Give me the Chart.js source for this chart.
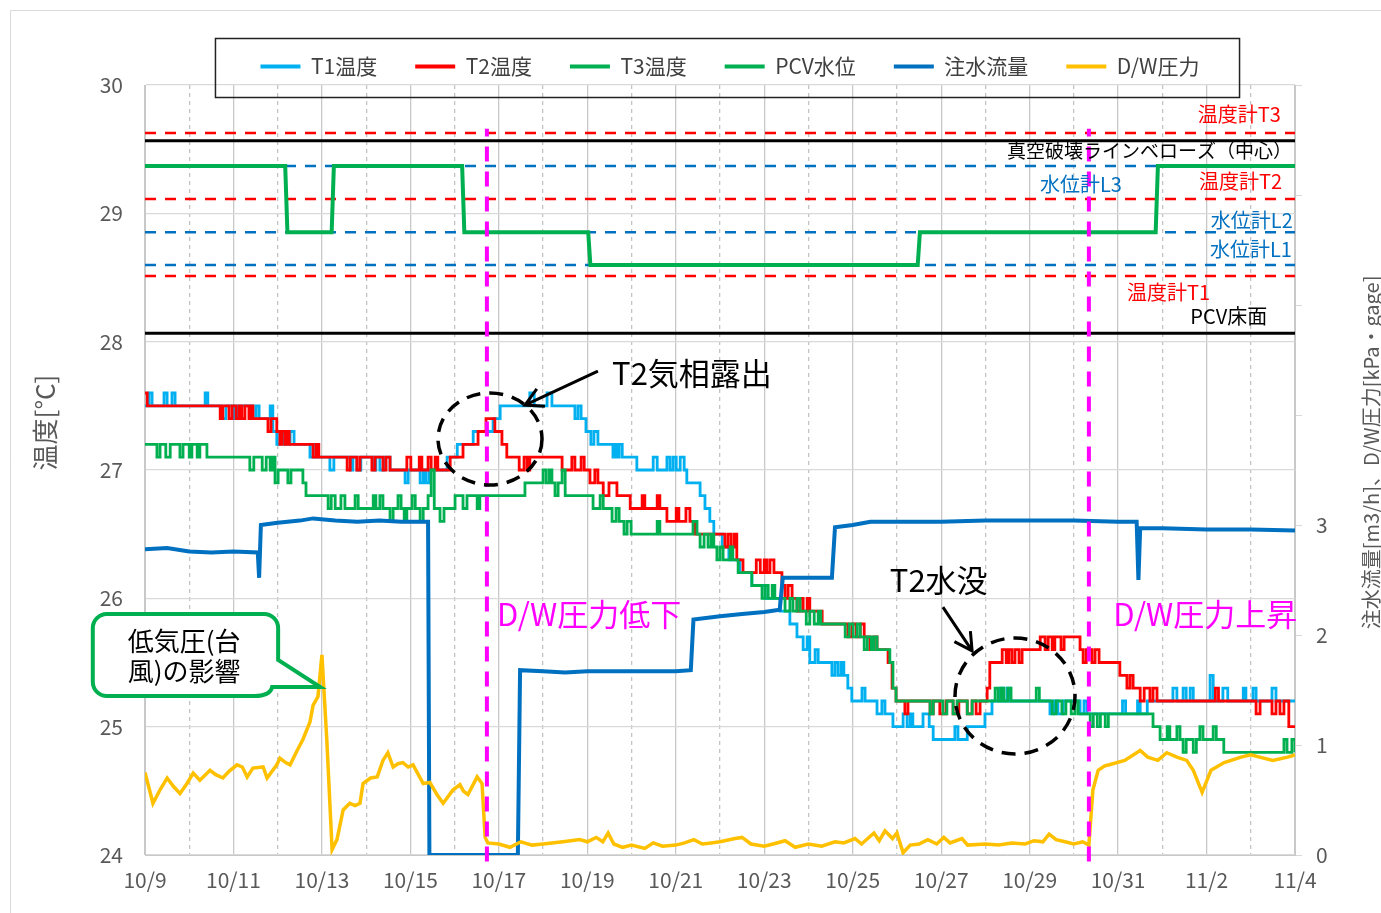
<!DOCTYPE html>
<html>
<head>
<meta charset="utf-8">
<script src="https://cdn.jsdelivr.net/npm/chart.js@4.4.1/dist/chart.umd.min.js"></script>
<style>
html, body { margin: 0; padding: 0; background: #fff; overflow: hidden; }
canvas { display: block; }
</style>
</head>
<body>
<canvas id="myChart" width="1381" height="913"></canvas>
<script>
// days counted from 10/9, temperatures in degC, flow in m3/h, pressure in kPa gage
const dateTicks = ['10/9', '10/11', '10/13', '10/15', '10/17', '10/19', '10/21', '10/23', '10/25', '10/27', '10/29', '10/31', '11/2', '11/4']

const seriesNames = ['T1温度', 'T2温度', 'T3温度', 'PCV水位', '注水流量', 'D/W圧力']

// temperature change points [day, value] (the value holds until the next point)
const t1Steps = [[0,27.5],[0.09,27.6],[0.16,27.5],[0.43,27.6],[0.50,27.5],[0.61,27.6],[0.68,27.5],[1.36,27.6],[1.42,27.5],[1.74,27.4],
  [1.83,27.5],[2.01,27.4],[2.08,27.5],[2.44,27.4],[2.51,27.5],[2.58,27.4],[2.83,27.5],[2.89,27.3],[2.98,27.2],[3.05,27.3],
  [3.14,27.2],[3.28,27.3],[3.37,27.2],[3.73,27.1],[3.80,27.2],[3.87,27.1],[4.18,27.0],[4.27,27.1],[4.64,27.0],[4.70,27.1],
  [4.79,27.0],[4.88,27.1],[5.16,27.0],[5.22,27.1],[5.31,27.0],[5.40,27.1],[5.54,27.0],[5.88,26.9],[5.95,27.0],[6.22,26.9],
  [6.29,27.0],[6.35,26.9],[6.42,27.0],[6.83,27.1],[7.06,27.2],[7.42,27.3],[7.87,27.4],[8.03,27.5],[8.70,27.6],[8.80,27.5],
  [9.09,27.6],[9.20,27.5],[9.72,27.4],[9.79,27.5],[9.86,27.4],[9.97,27.3],[10.08,27.2],[10.15,27.3],[10.24,27.2],[10.58,27.1],
  [10.63,27.2],[10.67,27.1],[10.72,27.2],[10.79,27.1],[11.12,27.0],[11.49,27.1],[11.58,27.0],[11.80,27.1],[11.87,27.0],[11.94,27.1],
  [12.01,27.0],[12.10,27.1],[12.19,27.0],[12.25,26.9],[12.55,26.8],[12.66,26.7],[12.77,26.6],[12.86,26.5],[13.05,26.4],[13.20,26.3],
  [13.45,26.2],[13.72,26.1],[14.02,26.0],[14.36,25.9],[14.58,25.8],[14.74,25.7],[14.88,25.6],[14.97,25.7],[15.03,25.5],[15.15,25.6],
  [15.22,25.5],[15.53,25.4],[15.60,25.5],[15.67,25.4],[15.74,25.5],[15.80,25.4],[15.89,25.3],[15.98,25.2],[16.21,25.3],[16.28,25.2],
  [16.55,25.1],[16.66,25.2],[16.73,25.1],[16.91,25.0],[17.14,25.1],[17.23,25.0],[17.30,25.1],[17.36,25.0],[17.59,25.1],[17.73,25.0],
  [17.82,24.9],[18.31,25.0],[18.38,24.9],[18.59,25.0],[18.99,25.1],[19.15,25.2],[19.33,25.3],[19.40,25.2],[19.49,25.3],[19.56,25.2],
  [20.46,25.1],[20.55,25.2],[20.64,25.1],[20.76,25.2],[21.14,25.1],[21.23,25.2],[21.30,25.1],[22.10,25.2],[22.17,25.1],[22.44,25.2],
  [22.50,25.1],[22.66,25.2],[23.24,25.3],[23.33,25.2],[23.47,25.3],[23.54,25.2],[23.63,25.3],[23.70,25.2],[24.08,25.4],[24.15,25.2],
  [24.37,25.3],[24.48,25.2],[24.83,25.3],[24.89,25.2],[25.05,25.3],[25.12,25.2],[25.48,25.3],[25.57,25.2],[26,25.2]]

const t2Steps = [[0,27.6],[0.05,27.5],[1.70,27.4],[1.76,27.5],[1.90,27.4],[1.97,27.5],[2.06,27.4],[2.13,27.5],[2.19,27.4],[2.26,27.5],
  [2.35,27.4],[2.40,27.5],[2.44,27.4],[2.78,27.3],[2.85,27.4],[2.98,27.3],[3.05,27.2],[3.10,27.3],[3.17,27.2],[3.21,27.3],
  [3.26,27.2],[3.80,27.1],[3.87,27.2],[3.93,27.1],[4.57,27.0],[4.64,27.1],[4.79,27.0],[4.86,27.1],[5.13,27.0],[5.20,27.1],
  [5.38,27.0],[5.45,27.1],[5.54,27.0],[5.92,27.1],[6.01,27.0],[6.20,27.1],[6.26,27.0],[6.40,27.1],[6.47,27.0],[6.56,27.1],
  [6.62,27.0],[6.90,27.1],[7.19,27.2],[7.53,27.3],[7.71,27.4],[7.91,27.3],[8.07,27.2],[8.18,27.1],[8.46,27.0],[8.57,27.1],
  [8.64,27.0],[8.70,27.1],[9.43,27.0],[9.65,27.1],[9.72,27.0],[9.86,27.1],[9.93,27.0],[10.06,26.9],[10.17,27.0],[10.24,26.9],
  [10.36,26.8],[10.49,26.9],[10.67,26.8],[10.97,26.7],[11.24,26.8],[11.30,26.7],[11.58,26.8],[11.64,26.7],[11.80,26.6],[12.01,26.7],
  [12.07,26.6],[12.23,26.7],[12.32,26.6],[12.44,26.5],[13.11,26.4],[13.18,26.5],[13.25,26.4],[13.32,26.5],[13.38,26.3],[13.52,26.2],
  [13.82,26.3],[13.91,26.2],[14.00,26.3],[14.06,26.2],[14.13,26.3],[14.22,26.2],[14.40,26.1],[14.47,26.0],[14.54,26.1],[14.63,26.0],
  [14.74,25.9],[14.81,26.0],[14.88,25.9],[14.97,26.0],[15.03,25.9],[15.31,25.8],[15.89,25.7],[15.98,25.8],[16.08,25.7],[16.17,25.8],
  [16.26,25.7],[16.39,25.6],[16.48,25.7],[16.55,25.6],[16.80,25.5],[16.89,25.3],[16.98,25.2],[17.18,25.1],[17.25,25.2],[17.75,25.1],
  [17.82,25.2],[17.97,25.1],[18.11,25.2],[18.27,25.1],[18.40,25.2],[18.59,25.1],[18.70,25.2],[18.79,25.1],[18.88,25.2],[19.04,25.3],
  [19.10,25.5],[19.38,25.6],[19.47,25.5],[19.53,25.6],[19.60,25.5],[19.67,25.6],[19.76,25.5],[19.83,25.6],[20.24,25.7],[20.35,25.6],
  [20.42,25.7],[20.51,25.6],[20.57,25.7],[20.71,25.6],[20.78,25.7],[21.14,25.6],[21.21,25.5],[21.28,25.6],[21.41,25.5],[21.48,25.6],
  [21.57,25.5],[22.04,25.4],[22.20,25.3],[22.27,25.4],[22.34,25.3],[22.50,25.2],[22.59,25.3],[22.72,25.2],[22.79,25.3],[22.88,25.2],
  [24.20,25.3],[24.27,25.2],[25.12,25.1],[25.21,25.2],[25.48,25.1],[25.57,25.2],[25.66,25.1],[25.75,25.2],[25.86,25.0],[26,25.0]]

const t3Steps = [[0,27.2],[0.27,27.1],[0.34,27.2],[0.47,27.1],[0.57,27.2],[0.79,27.1],[0.86,27.2],[1.00,27.1],[1.06,27.2],[1.18,27.1],
  [1.24,27.2],[1.40,27.1],[2.37,27.0],[2.46,27.1],[2.65,27.0],[2.74,27.1],[2.83,27.0],[2.89,27.1],[2.94,26.9],[3.01,27.0],
  [3.23,26.9],[3.30,27.0],[3.57,26.9],[3.64,26.8],[4.14,26.7],[4.21,26.8],[4.30,26.7],[4.43,26.8],[4.52,26.7],[4.75,26.8],
  [4.82,26.7],[5.16,26.8],[5.22,26.7],[5.31,26.8],[5.38,26.7],[5.54,26.6],[5.61,26.7],[5.72,26.8],[5.79,26.7],[5.86,26.6],
  [5.92,26.7],[6.04,26.8],[6.11,26.7],[6.22,26.6],[6.29,26.7],[6.40,26.8],[6.47,27.0],[6.54,26.7],[6.67,26.6],[6.76,26.7],
  [7.01,26.8],[7.19,26.7],[7.28,26.8],[7.51,26.7],[7.57,26.8],[8.59,26.9],[9.00,27.0],[9.07,26.9],[9.14,27.0],[9.20,26.9],
  [9.27,26.8],[9.34,26.9],[9.43,27.0],[9.50,26.8],[10.13,26.7],[10.29,26.8],[10.36,26.7],[10.56,26.6],[10.65,26.7],[10.72,26.6],
  [10.83,26.5],[10.90,26.6],[10.99,26.5],[11.58,26.6],[11.64,26.5],[12.39,26.6],[12.48,26.5],[12.55,26.4],[12.64,26.5],[12.73,26.4],
  [12.80,26.5],[12.86,26.4],[12.93,26.3],[13.00,26.4],[13.07,26.3],[13.23,26.4],[13.29,26.3],[13.41,26.2],[13.72,26.1],[13.95,26.0],
  [14.02,26.1],[14.09,26.0],[14.18,26.1],[14.24,26.0],[14.47,25.9],[14.58,26.0],[14.65,25.9],[14.74,26.0],[14.81,25.9],[14.95,25.8],
  [15.03,25.9],[15.13,25.8],[15.22,25.9],[15.28,25.8],[15.83,25.7],[15.92,25.8],[16.01,25.7],[16.10,25.8],[16.17,25.7],[16.26,25.6],
  [16.33,25.7],[16.42,25.6],[16.48,25.7],[16.55,25.6],[16.84,25.5],[16.91,25.3],[16.98,25.2],[17.75,25.1],[17.82,25.2],[18.04,25.1],
  [18.13,25.2],[18.27,25.1],[18.36,25.2],[18.59,25.1],[18.70,25.2],[19.22,25.3],[19.29,25.2],[19.36,25.3],[19.42,25.2],[19.51,25.3],
  [19.58,25.2],[20.15,25.3],[20.22,25.2],[20.51,25.1],[20.60,25.2],[20.73,25.1],[20.82,25.2],[20.94,25.1],[21.03,25.2],[21.10,25.1],
  [21.37,25.0],[21.44,25.1],[21.53,25.0],[21.60,25.1],[21.71,25.0],[21.78,25.1],[22.79,25.0],[22.95,24.9],[23.11,25.0],[23.17,24.9],
  [23.33,25.0],[23.40,24.9],[23.47,24.8],[23.54,24.9],[23.70,24.8],[23.77,24.9],[23.85,25.0],[23.92,24.9],[24.15,25.0],[24.22,24.9],
  [24.39,24.8],[25.75,24.9],[25.82,24.8],[25.93,24.9],[26,24.8]]

// PCV water level, drawn on the temperature axis
const pcvLevel = [[0,29.369],[3.17,29.369],[3.22,28.853],[4.22,28.853],[4.27,29.369],[7.17,29.369],[7.22,28.853],
  [10.02,28.853],[10.07,28.597],[17.47,28.597],[17.52,28.853],[22.85,28.853],[22.90,29.369],[26,29.369]]

// injection flow [m3/h]
const flowRate = [[0,2.78],[0.5,2.79],[1.0,2.76],[1.5,2.75],[2.0,2.76],[2.55,2.75],[2.58,2.52],[2.62,3.00],[3.0,3.02],[3.5,3.04],
  [3.8,3.06],[4.3,3.04],[4.8,3.03],[5.3,3.04],[5.8,3.03],[6.4,3.03],[6.43,0.0],[8.43,0.0],[8.48,1.68],[9.0,1.67],
  [9.5,1.66],[10.0,1.67],[11.0,1.67],[12.0,1.67],[12.34,1.68],[12.40,2.14],[13.0,2.17],[13.5,2.19],[14.0,2.21],[14.35,2.23],
  [14.42,2.52],[15.0,2.52],[15.53,2.52],[15.6,2.98],[16.0,3.0],[16.4,3.03],[17.0,3.03],[18.0,3.03],[19.0,3.04],[20.0,3.04],
  [21.0,3.04],[22.0,3.03],[22.42,3.03],[22.46,2.50],[22.50,2.97],[23.0,2.97],[24.0,2.96],[25.0,2.96],[26.0,2.95]]

// D/W pressure [kPa gage]
const dwPressure = [[0,0.75],[0.18,0.47],[0.35,0.60],[0.5,0.70],[0.65,0.62],[0.79,0.56],[0.95,0.65],[1.09,0.745],[1.24,0.68],[1.47,0.77],
  [1.6,0.73],[1.76,0.70],[1.9,0.76],[2.08,0.82],[2.2,0.80],[2.31,0.71],[2.44,0.79],[2.67,0.80],[2.76,0.70],[2.98,0.82],
  [3.05,0.88],[3.18,0.84],[3.28,0.82],[3.44,0.95],[3.57,1.05],[3.73,1.21],[3.80,1.36],[3.91,1.44],[4.00,1.82],[4.11,1.05],
  [4.23,0.05],[4.34,0.14],[4.48,0.41],[4.63,0.47],[4.75,0.45],[4.86,0.47],[4.93,0.65],[5.1,0.70],[5.25,0.71],[5.38,0.86],
  [5.49,0.93],[5.61,0.80],[5.72,0.83],[5.83,0.84],[5.95,0.80],[6.06,0.82],[6.29,0.65],[6.44,0.66],[6.6,0.55],[6.74,0.47],
  [6.96,0.59],[7.12,0.64],[7.20,0.58],[7.30,0.55],[7.51,0.71],[7.62,0.65],[7.69,0.16],[7.75,0.11],[8.0,0.10],[8.25,0.07],
  [8.5,0.12],[8.75,0.09],[9.0,0.10],[9.45,0.12],[9.83,0.14],[10.0,0.12],[10.2,0.16],[10.35,0.12],[10.47,0.20],[10.6,0.10],
  [10.8,0.07],[11.0,0.09],[11.3,0.06],[11.49,0.11],[11.7,0.08],[12.0,0.09],[12.2,0.11],[12.41,0.14],[12.6,0.10],[12.8,0.11],
  [13.0,0.12],[13.34,0.15],[13.5,0.16],[13.7,0.10],[14.0,0.08],[14.2,0.10],[14.47,0.13],[14.7,0.07],[15.0,0.10],[15.3,0.08],
  [15.6,0.12],[15.8,0.11],[16.05,0.15],[16.2,0.10],[16.48,0.20],[16.6,0.13],[16.73,0.22],[16.9,0.15],[17.0,0.20],[17.14,0.02],
  [17.3,0.09],[17.5,0.10],[17.7,0.14],[17.9,0.10],[18.06,0.16],[18.2,0.11],[18.47,0.15],[18.6,0.09],[19.0,0.10],[19.3,0.09],
  [19.6,0.11],[19.9,0.10],[20.1,0.13],[20.3,0.12],[20.44,0.19],[20.6,0.14],[20.8,0.12],[21.0,0.10],[21.2,0.12],[21.34,0.09],
  [21.43,0.59],[21.55,0.77],[21.7,0.81],[21.8,0.82],[22.15,0.86],[22.5,0.95],[22.67,0.89],[22.9,0.86],[23.1,0.93],[23.33,0.89],
  [23.55,0.86],[23.7,0.77],[23.9,0.57],[24.1,0.77],[24.4,0.84],[24.78,0.89],[25.0,0.91],[25.2,0.89],[25.5,0.86],[25.83,0.89],[26.0,0.91]]

// sensor / structure heights on the temperature axis
const refNames = ['温度計T3', '真空破壊ラインベローズ（中心）', '水位計L3', '温度計T2', '水位計L2', '水位計L1', '温度計T1', 'PCV床面']
const refLevels = [29.626, 29.565, 29.369, 29.112, 28.853, 28.597, 28.512, 28.066]

// D/W pressure events
const eventDays = [7.73, 21.34]

const toPts = arr => arr.map(p => ({ x: p[0], y: p[1] }))

const seriesColors = ['#00B0F0', '#FF0000', '#00B050', '#00B050', '#0070C0', '#FFC000']
const refColors = ['#FF0000', '#000000', '#0070C0', '#FF0000', '#0070C0', '#0070C0', '#FF0000', '#000000']

const datasets = [
  { label: seriesNames[0], data: toPts(t1Steps), stepped: 'before', borderColor: seriesColors[0], borderWidth: 2.8, order: 6 },
  { label: seriesNames[1], data: toPts(t2Steps), stepped: 'before', borderColor: seriesColors[1], borderWidth: 2.8, order: 5 },
  { label: seriesNames[2], data: toPts(t3Steps), stepped: 'before', borderColor: seriesColors[2], borderWidth: 2.8, order: 4 },
  { label: seriesNames[3], data: toPts(pcvLevel), borderColor: seriesColors[3], borderWidth: 4, order: 3 },
  { label: seriesNames[4], data: toPts(flowRate), borderColor: seriesColors[4], borderWidth: 4, yAxisID: 'y1', order: 2 },
  { label: seriesNames[5], data: toPts(dwPressure), borderColor: seriesColors[5], borderWidth: 3.5, yAxisID: 'y1', order: 1 }
]

refLevels.forEach((lv, i) => {
  const solid = refColors[i] === '#000000'
  datasets.push({
    label: refNames[i], data: [{ x: 0, y: lv }, { x: 26, y: lv }],
    borderColor: refColors[i], borderWidth: solid ? 3 : 2.5, borderDash: solid ? [] : [11, 9], order: 7
  })
})

eventDays.forEach(d => {
  datasets.push({
    label: 'event', data: [{ x: d, y: 23.95 }, { x: d, y: 29.66 }],
    borderColor: '#FF00FF', borderWidth: 4, borderDash: [15, 10], order: 0, clip: false
  })
})

const FONT = "'Noto Sans CJK JP', 'Noto Sans', sans-serif"
Chart.defaults.font.family = FONT

// fixed legend height, and the legend nudged a little to the right
const legendFit = {
  id: 'legendFit',
  beforeInit(chart) {
    const fit = chart.legend.fit
    chart.legend.fit = function () {
      fit.call(this)
      this.height = 67
    }
  },
  afterLayout(chart) {
    chart.legend.left += 10
    chart.legend.right += 10
  }
}

const notes = {
  id: 'notes',
  beforeDraw(chart) {
    const c = chart.ctx
    c.save()
    c.fillStyle = '#fff'
    c.fillRect(0, 0, chart.width, chart.height)
    c.strokeStyle = '#d9d9d9'
    c.lineWidth = 1
    c.beginPath()
    c.moveTo(10.5, chart.height)
    c.lineTo(10.5, 10.5)
    c.lineTo(chart.width, 10.5)
    c.stroke()
    c.restore()
  },
  afterDatasetsDraw(chart) {
    const c = chart.ctx
    const xs = chart.scales.x, ys = chart.scales.y
    const X = v => xs.getPixelForValue(v)
    const Y = v => ys.getPixelForValue(v)
    c.save()

    // labels on the reference lines
    const refLabelPos = [[25.68, 29.774, 'right', '#FF0000'], [25.93, 29.486, 'right', '#000'], [21.16, 29.229, 'center', '#0070C0'],
      [25.71, 29.252, 'right', '#FF0000'], [25.95, 28.948, 'right', '#0070C0'], [25.93, 28.722, 'right', '#0070C0'],
      [24.08, 28.387, 'right', '#FF0000'], [25.37, 28.2, 'right', '#000']]
    c.textBaseline = 'middle'
    refLabelPos.forEach((p, i) => {
      c.font = (i === 1 ? '19px ' : '20px ') + FONT
      c.textAlign = p[2]
      c.fillStyle = p[3]
      c.fillText(refNames[i], X(p[0]), Y(p[1]))
    })

    // big notes
    c.font = '31px ' + FONT
    c.textAlign = 'left'
    c.fillStyle = '#000'
    c.fillText('T2気相露出', X(10.56), Y(27.756))
    c.fillText('T2水没', X(16.84), Y(26.143))
    c.fillStyle = '#FF00FF'
    c.fillText('D/W圧力低下', X(7.96), Y(25.878))
    c.fillText('D/W圧力上昇', X(21.89), Y(25.878))

    // dashed circles
    c.strokeStyle = '#000'
    c.lineWidth = 3.5
    c.setLineDash([14, 9])
    c.beginPath()
    c.ellipse(X(7.80), Y(27.242), 52, 46, 0, 0, Math.PI * 2)
    c.stroke()
    c.beginPath()
    c.ellipse(X(19.67), Y(25.239), 60, 58, 0, 0, Math.PI * 2)
    c.stroke()
    c.setLineDash([])

    // arrows
    const arrow = (x0, y0, x1, y1) => {
      const a = Math.atan2(y1 - y0, x1 - x0)
      c.lineWidth = 3
      c.beginPath()
      c.moveTo(x0, y0)
      c.lineTo(x1, y1)
      c.moveTo(x1 - 20 * Math.cos(a - 0.5), y1 - 20 * Math.sin(a - 0.5))
      c.lineTo(x1, y1)
      c.lineTo(x1 - 20 * Math.cos(a + 0.5), y1 - 20 * Math.sin(a + 0.5))
      c.stroke()
    }
    arrow(X(10.24), Y(27.771), X(8.59), Y(27.506))
    arrow(X(18.04), Y(25.932), X(18.70), Y(25.59))

    // callout box
    const L = X(-1.18), R = X(3.01), T = Y(25.878), B = Y(25.239), r = 14
    c.beginPath()
    c.moveTo(L + r, T)
    c.lineTo(R - r, T)
    c.arcTo(R, T, R, T + r, r)
    c.lineTo(R, Y(25.52))
    c.lineTo(X(3.96), Y(25.309))
    c.lineTo(R - 6, Y(25.309))
    c.quadraticCurveTo(R - 8, B, R - 24, B)
    c.lineTo(L + r, B)
    c.arcTo(L, B, L, B - r, r)
    c.lineTo(L, T + r)
    c.arcTo(L, T, L + r, T, r)
    c.closePath()
    c.fillStyle = '#fff'
    c.fill()
    c.strokeStyle = '#00B050'
    c.lineWidth = 4
    c.stroke()
    c.fillStyle = '#000'
    c.font = '26px ' + FONT
    c.textAlign = 'left'
    c.fillText('低気圧(台', L + 35, Y(25.668))
    c.fillText('風)の影響', L + 35, Y(25.434))
    c.restore()
  },
  afterDraw(chart) {
    const c = chart.ctx
    const hb = chart.legend.legendHitBoxes
    c.save()
    if (hb && hb.length) {
      const last = hb[hb.length - 1]
      const left = hb[0].left - 45, right = last.left + last.width + 40
      c.strokeStyle = '#222'
      c.lineWidth = 1.5
      c.strokeRect(left, 38.5, right - left, 59)
    }
    c.fillStyle = '#595959'
    c.textAlign = 'center'
    c.textBaseline = 'middle'
    // left axis title
    c.save()
    c.translate(45, chart.scales.y.getPixelForValue(27.37))
    c.rotate(-Math.PI / 2)
    c.font = '26px ' + FONT
    c.fillText('温度[°C]', 0, 0)
    c.restore()
    // right axis title, read bottom to top
    const y1 = chart.scales.y1
    c.translate(chart.width - 10, y1.getPixelForValue(3.66))
    c.rotate(-Math.PI / 2)
    c.font = '20px ' + FONT
    c.fillText('注水流量[m3/h]、D/W圧力[kPa・gage]', 0, 0)
    c.restore()
  }
}

const tickStyle = { color: '#595959', font: { size: 21 } }

new Chart(document.getElementById('myChart'), {
  type: 'line',
  data: { datasets: datasets },
  options: {
    responsive: false,
    animation: false,
    layout: { padding: { left: 10, top: 18, right: 0, bottom: 0 } },
    elements: { point: { radius: 0 }, line: { tension: 0 } },
    plugins: {
      tooltip: { enabled: false },
      legend: {
        position: 'top',
        fullSize: false,
        labels: {
          filter: item => item.datasetIndex < 6,
          sort: (a, b) => a.datasetIndex - b.datasetIndex,
          generateLabels: chart => Chart.defaults.plugins.legend.labels.generateLabels(chart)
            .map(item => Object.assign(item, { lineWidth: 4 })),
          usePointStyle: true,
          pointStyle: 'line',
          pointStyleWidth: 40,
          padding: 38,
          color: '#404040',
          font: { size: 21 }
        }
      }
    },
    scales: {
      x: {
        type: 'linear',
        min: 0,
        max: 26,
        afterFit: s => { s.height = 58 },
        ticks: {
          ...tickStyle,
          stepSize: 1,
          autoSkip: false,
          maxRotation: 0,
          padding: 12,
          callback: v => (v % 2 === 0 ? dateTicks[v / 2] : '')
        },
        grid: {
          drawTicks: false,
          lineWidth: 1.3,
          color: ctx => (ctx.tick && ctx.tick.value % 2 ? '#c4c4c4' : '#c8c8c8')
        },
        border: {
          color: '#c8c8c8',
          dash: ctx => (ctx.tick && ctx.tick.value % 2 ? [4, 4] : [])
        }
      },
      y: {
        min: 24,
        max: 30,
        afterFit: s => { s.width = 135 },
        ticks: { ...tickStyle, stepSize: 1, padding: 22 },
        grid: { drawTicks: false, color: '#d9d9d9', lineWidth: 1.3 },
        border: { color: '#c8c8c8' }
      },
      y1: {
        position: 'right',
        min: 0,
        max: 7,
        afterFit: s => { s.width = 86 },
        ticks: { ...tickStyle, stepSize: 1, padding: 14, callback: v => (v <= 3 ? v : '') },
        grid: { drawOnChartArea: false, tickLength: 7, color: '#d9d9d9' },
        border: { color: '#c8c8c8' }
      }
    }
  },
  plugins: [legendFit, notes]
})
</script>
</body>
</html>
